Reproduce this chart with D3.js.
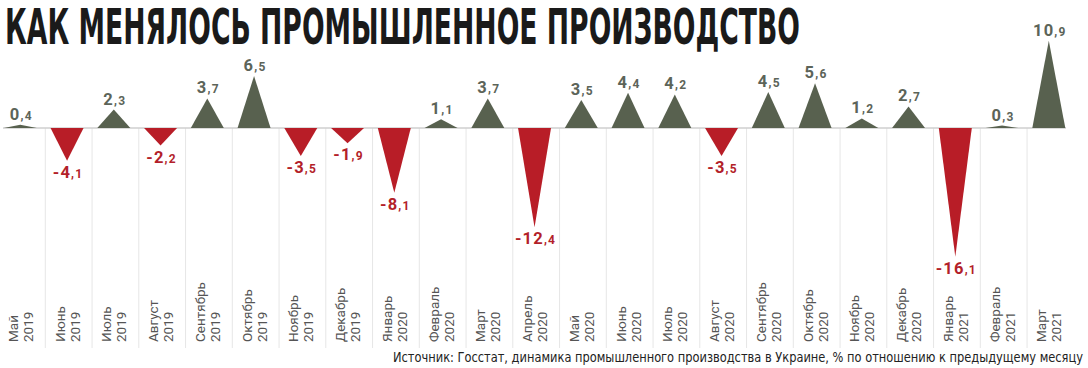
<!DOCTYPE html>
<html><head><meta charset="utf-8">
<script src="https://cdn.jsdelivr.net/npm/d3@7"></script>
<style>body{margin:0;background:#fff;}svg{display:block;}</style>
</head><body>
<svg id="chart" width="1088" height="368"></svg>
<script>
const months = ["Май","Июнь","Июль","Август","Сентябрь","Октябрь","Ноябрь","Декабрь","Январь","Февраль","Март","Апрель","Май","Июнь","Июль","Август","Сентябрь","Октябрь","Ноябрь","Декабрь","Январь","Февраль","Март"];
const years = ["2019","2019","2019","2019","2019","2019","2019","2019","2020","2020","2020","2020","2020","2020","2020","2020","2020","2020","2020","2020","2021","2021","2021"];
const values = [0.4,-4.1,2.3,-2.2,3.7,6.5,-3.5,-1.9,-8.1,1.1,3.7,-12.4,3.5,4.4,4.2,-3.5,4.5,5.6,1.2,2.7,-16.1,0.3,10.9];
const title = "КАК МЕНЯЛОСЬ ПРОМЫШЛЕННОЕ ПРОИЗВОДСТВО";
const source = "Источник: Госстат, динамика промышленного производства в Украине, % по отношению к предыдущему месяцу";

const data = values.map((v,i)=>({i, v, m: months[i], yr: years[i]}));
const svg = d3.select("#chart");
const POS = "#58614f", NEG = "#b81d27", POS_T = "#5c6459", NEG_T = "#b31f2a";

const x = d3.scalePoint().domain(d3.range(values.length)).range([20.3, 20.3 + 22*46.75]);
const step = x.step();
const half = 16.5;
const y = d3.scaleLinear().domain([-16.1, 10.9]).range([256.8, 40.8]);

// title
svg.append("text").attr("x",5).attr("y",44)
  .attr("font-family","'Liberation Sans Narrow','DejaVu Sans Condensed',sans-serif")
  .attr("font-weight","bold").attr("font-size",49).attr("fill","#1a1a1a")
  .attr("textLength",795).attr("lengthAdjust","spacingAndGlyphs").text(title);

// gridlines
svg.append("g").selectAll("line").data(data.slice(0,-1)).join("line")
  .attr("x1", d=>x(d.i)+25).attr("x2", d=>x(d.i)+25)
  .attr("y1", y(0)).attr("y2", 348).attr("stroke","#e6e6e6").attr("stroke-width",1);

// baseline
svg.append("line").attr("x1",3).attr("x2",1066).attr("y1",y(0)).attr("y2",y(0))
  .attr("stroke","#cfcfcf").attr("stroke-width",1.5);

// triangles
svg.append("g").selectAll("path").data(data).join("path")
  .attr("d", d=>{
    const c = x(d.i);
    return `M${c-half},${y(0)}L${c},${y(d.v)}L${c+half},${y(0)}Z`;
  })
  .attr("fill", d=> d.v>=0 ? POS : NEG);

// value labels
const lab = svg.append("g").selectAll("text").data(data).join("text")
  .attr("x", d=>x(d.i)+1)
  .attr("y", d=> d.v>=0 ? y(d.v)-5 : y(d.v)+17)
  .attr("text-anchor","middle")
  .attr("letter-spacing",1.2)
  .attr("font-family","Roboto, 'Noto Sans', sans-serif").attr("font-weight","bold")
  .attr("fill", d=> d.v>=0 ? POS_T : NEG_T);
lab.each(function(d){
  const s = d.v.toFixed(1).split(".");
  const t = d3.select(this);
  t.append("tspan").attr("font-size",16.5).text(s[0]);
  t.append("tspan").attr("font-size",12).text(","+s[1]);
});

// month labels
const ml = svg.append("g").selectAll("g").data(data).join("g")
  .attr("transform", d=>`translate(${x(d.i)},342) rotate(-90)`);
ml.append("text").attr("x",0).attr("y",-2.5)
  .attr("font-family","Roboto, 'Noto Sans', sans-serif").attr("font-size",13.5).attr("fill","#555")
  .text(d=>d.m);
ml.append("text").attr("x",0).attr("y",12.5)
  .attr("font-family","Roboto, 'Noto Sans', sans-serif").attr("font-size",13.5).attr("fill","#555")
  .text(d=>d.yr);

// source
svg.append("text").attr("x",393).attr("y",362)
  .attr("font-family","'Liberation Sans Narrow','DejaVu Sans Condensed',sans-serif")
  .attr("font-size",14).attr("fill","#222")
  .attr("textLength",690).attr("lengthAdjust","spacingAndGlyphs").text(source);
</script>
</body></html>
